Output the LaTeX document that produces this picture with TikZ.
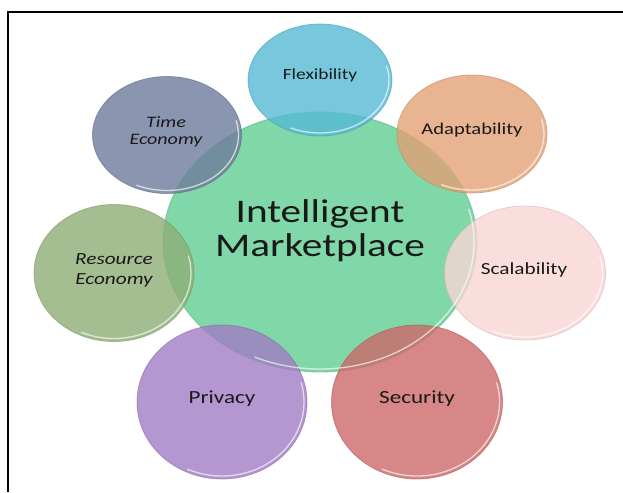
\documentclass[tikz,border=0pt]{standalone}
\usepackage{fontspec}
\setmainfont{Carlito}[FakeStretch=1.25]
\usetikzlibrary{shapes.geometric}

\definecolor{mktgreen}{RGB}{96,206,146}
\definecolor{flexblue}{RGB}{86,185,213}
\definecolor{adaptpeach}{RGB}{226,161,117}
\definecolor{scalpink}{RGB}{249,214,214}
\definecolor{securred}{RGB}{205,105,105}
\definecolor{privlilac}{RGB}{161,124,196}
\definecolor{resgreen}{RGB}{142,174,118}
\definecolor{timegrey}{RGB}{109,124,155}

\tikzset{
  bubble/.style={ellipse, inner sep=0pt, fill=#1, fill opacity=0.8,
    draw=#1!85!black, draw opacity=0.6, line width=0.8pt},
  rim/.style={white, opacity=0.65, line width=1.3pt, line cap=round},
  lbl/.style={font=\fontsize{#1}{#1}\selectfont, align=center, text=black!90},
  lbl/.default=16,
}

\begin{document}
\begin{tikzpicture}[x=1pt,y=-1pt]
    \useasboundingbox (0,0) rectangle (623,492);
    \draw[line width=1.1pt] (8,492) -- (8,12) -- (623,12);
    % central circle first, the others on top
    \node[bubble=mktgreen, minimum width=314pt, minimum height=260pt] (mkt) at (320,242) {};
    \node[bubble=flexblue, minimum width=144pt, minimum height=112pt] (flex) at (320,80) {};
    \node[bubble=adaptpeach, minimum width=150pt, minimum height=118pt] (adapt) at (472,134) {};
    \node[bubble=scalpink, minimum width=161pt, minimum height=134pt] (scal) at (525,273) {};
    \node[bubble=securred, minimum width=171pt, minimum height=154pt] (secur) at (417,402) {};
    \node[bubble=privlilac, minimum width=170pt, minimum height=154pt] (priv) at (222,402) {};
    \node[bubble=resgreen, minimum width=160pt, minimum height=137pt] (res) at (114,273) {};
    \node[bubble=timegrey, minimum width=149pt, minimum height=117pt] (time) at (167,135) {};
    % light rim on the lower right of every circle
    \foreach \n/\rx/\ry in {mkt/157/130, flex/72/56, adapt/75/59, scal/80.5/67, secur/85.5/77,
        priv/85/77, res/80/68.5, time/74.5/58.5}
        \draw[rim] (\n.center) ++(-15:\rx-3 and \ry-3)
            arc[start angle=-15, end angle=115, x radius=\rx-3, y radius=\ry-3];
    % labels
    \node[lbl, font=\fontsize{33}{34}\selectfont] (mkttext) at (320,231) {Intelligent\\Marketplace};
    \node[lbl=15.5, anchor=base] (flextext) at (320,80) {Flexibility};
    \node[lbl=16.5, anchor=base] (adapttext) at (472,134) {Adaptability};
    \node[lbl=17, anchor=base] (scaltext) at (524,274) {Scalability};
    \node[lbl=18.5, anchor=base] (securtext) at (417,403) {Security};
    \node[lbl=18.5, anchor=base] (privtext) at (222,403) {Privacy};
    \node[lbl, font=\fontsize{17}{20}\itshape] (restext) at (114,270) {Resource\\Economy};
    \node[lbl, font=\fontsize{16}{17.5}\itshape] (timetext) at (166,132) {Time\\Economy};
\end{tikzpicture}
\end{document}
